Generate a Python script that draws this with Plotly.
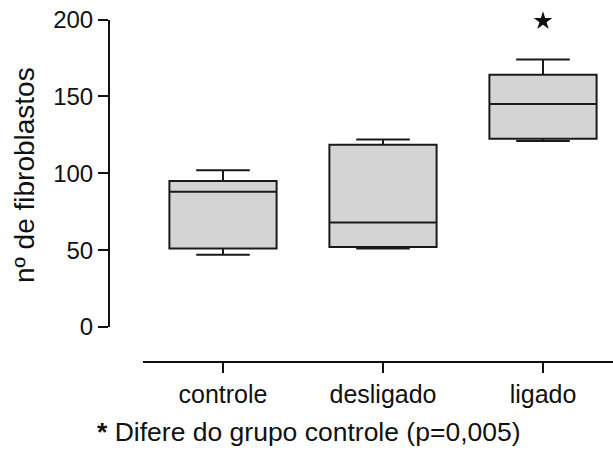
import plotly.graph_objects as go

# Fibroblast counts per group (box summary statistics)
groups = ["controle", "desligado", "ligado"]
lower_whisker = [47, 51, 121]
q1_values = [51, 52, 122.5]
median_values = [88, 68, 145]
q3_values = [95, 118.5, 164]
upper_whisker = [102, 122, 174]

# Significance marker above the "ligado" group
sig_group = ["ligado"]
sig_value = [199]

y_ticks = [0, 50, 100, 150, 200]

W, H = 613, 450
FONT = "Liberation Sans, Arial, sans-serif"

fig = go.Figure()

fig.add_trace(go.Box(
    x=groups,
    q1=q1_values,
    median=median_values,
    q3=q3_values,
    lowerfence=lower_whisker,
    upperfence=upper_whisker,
    boxpoints=False,
    width=0.67,
    whiskerwidth=0.5,
    fillcolor="#d4d4d4",
    line=dict(color="#1a1a1a", width=2),
    showlegend=False,
    hoverinfo="skip",
))

fig.add_trace(go.Scatter(
    x=sig_group,
    y=sig_value,
    mode="markers",
    marker=dict(symbol="star", size=14, color="#111111", line=dict(width=0)),
    cliponaxis=False,
    showlegend=False,
    hoverinfo="skip",
))

fig.update_layout(
    width=W,
    height=H,
    margin=dict(l=0, r=0, t=0, b=0, autoexpand=False),
    paper_bgcolor="white",
    plot_bgcolor="white",
    font=dict(family=FONT, color="#111111"),
    xaxis=dict(
        type="category",
        categoryorder="array",
        categoryarray=groups,
        range=[-0.5, 2.4375],
        domain=[143 / W, 1.0],
        anchor="free",
        position=(H - 362) / H,
        automargin=False,
        showline=True,
        linewidth=2,
        linecolor="#111111",
        ticks="outside",
        ticklen=10,
        tickwidth=2,
        tickcolor="#111111",
        tickfont=dict(size=25, family=FONT, color="#111111"),
        showgrid=False,
        zeroline=False,
        fixedrange=True,
    ),
    yaxis=dict(
        range=[0, 200],
        domain=[(H - 327) / H, (H - 19.5) / H],
        anchor="free",
        position=109 / W,
        automargin=False,
        tickvals=y_ticks,
        showline=True,
        linewidth=2,
        linecolor="#111111",
        ticks="outside",
        ticklen=10,
        tickwidth=2,
        tickcolor="#111111",
        tickfont=dict(size=24, family=FONT, color="#111111"),
        showgrid=False,
        zeroline=False,
        fixedrange=True,
    ),
    annotations=[
        dict(
            text="nº de fibroblastos",
            xref="paper", yref="paper",
            x=25 / W, y=(H - 175) / H,
            xanchor="center", yanchor="middle",
            textangle=-90,
            showarrow=False,
            font=dict(size=28, family=FONT, color="#111111"),
        ),
        dict(
            text="<b>*</b> Difere do grupo controle (p=0,005)",
            xref="paper", yref="paper",
            x=309 / W, y=(H - 432) / H,
            xanchor="center", yanchor="middle",
            showarrow=False,
            font=dict(size=26.5, family=FONT, color="#111111"),
        ),
    ],
)

fig.write_html("out.html")
